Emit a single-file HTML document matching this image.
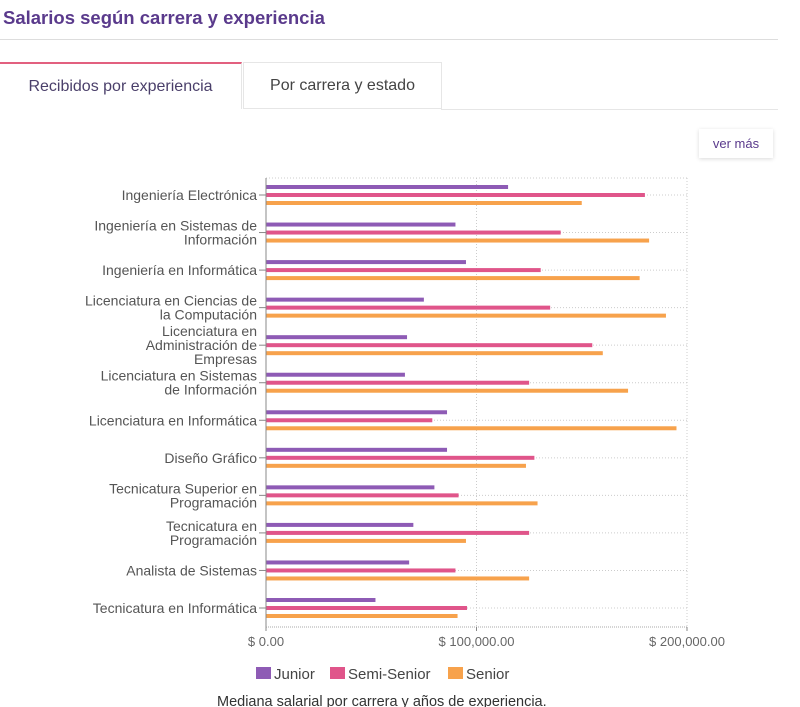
<!DOCTYPE html>
<html><head><meta charset="utf-8"><style>
body{margin:0;width:800px;height:707px;overflow:hidden;background:#fff;font-family:"Liberation Sans",sans-serif;position:relative}
.title{position:absolute;left:3px;top:7px;font-size:18.5px;font-weight:bold;color:#5a3a8c}
.hr{position:absolute;left:0;top:39px;width:778px;height:1px;background:#ddd}
.tab{position:absolute;top:62px;height:47px;font-size:16px;color:#444;display:flex;align-items:center;justify-content:center;box-sizing:border-box}
.btn{position:absolute;left:699px;top:129px;width:74px;height:29px;font-size:13px;color:#5a3a8c;display:flex;align-items:center;justify-content:center;box-shadow:0 1px 4px rgba(0,0,0,.15);background:#fff}
</style></head><body>
<div class="title">Salarios según carrera y experiencia</div>
<div class="hr"></div>
<div class="tab" style="left:0;width:242px;border-top:2px solid #e2607f;border-right:1px solid #e6e6e6;color:#4a3f6a">Recibidos por experiencia</div>
<div class="tab" style="left:243px;width:199px;border:1px solid #e6e6e6">Por carrera y estado</div>
<div style="position:absolute;left:441px;top:109px;width:337px;height:1px;background:#e6e6e6"></div>
<div class="btn">ver más</div>
<svg id="chart" width="800" height="707" style="position:absolute;left:0;top:0"></svg>
<script>
const categories=[["Ingeniería Electrónica"],["Ingeniería en Sistemas de","Información"],["Ingeniería en Informática"],["Licenciatura en Ciencias de","la Computación"],["Licenciatura en","Administración de","Empresas"],["Licenciatura en Sistemas","de Información"],["Licenciatura en Informática"],["Diseño Gráfico"],["Tecnicatura Superior en","Programación"],["Tecnicatura en","Programación"],["Analista de Sistemas"],["Tecnicatura en Informática"]];
const junior=[115000,90000,95000,75000,67000,66000,86000,86000,80000,70000,68000,52000];
const semiSenior=[180000,140000,130500,135000,155000,125000,79000,127500,91500,125000,90000,95500];
const senior=[150000,182000,177500,190000,160000,172000,195000,123500,129000,95000,125000,91000];
const xTicks=[0,100000,200000];
const xTickLabels=["$ 0.00","$ 100,000.00","$ 200,000.00"];
const series=[{name:"Junior",vals:junior,color:"#8e5bb5",off:-8},{name:"Semi-Senior",vals:semiSenior,color:"#e0558a",off:0},{name:"Senior",vals:senior,color:"#f7a24c",off:8}];
const svg=document.getElementById('chart');const NS="http://www.w3.org/2000/svg";
const X0=266,X1=687,Y0=178,Y1=627;
const x=v=>X0+(v/200000)*(X1-X0);
const y=i=>195+i*(608-195)/(categories.length-1);
function mk(t,a,p){const e=document.createElementNS(NS,t);for(const k in a)e.setAttribute(k,a[k]);(p||svg).appendChild(e);return e;}
let g=mk('line',{x1:X0,x2:X1,y1:Y0,y2:Y0,stroke:'#ccc','stroke-dasharray':'1,2'});

xTicks.forEach((t,k)=>{if(t>0){const l=mk('line',{x1:x(t),x2:x(t),y1:Y0,y2:Y1,stroke:'#ccc','stroke-dasharray':'1,2'});}
const tx=mk('text',{x:x(t),y:646,'text-anchor':'middle','font-size':13,fill:'#666'});tx.textContent=xTickLabels[k];});
categories.forEach((c,i)=>{const l=mk('line',{x1:X0,x2:X1,y1:y(i),y2:y(i),stroke:'#ccc','stroke-dasharray':'1,2'});
const tk=mk('line',{x1:X0-7,x2:X0,y1:y(i),y2:y(i),stroke:'#888'});
const n=c.length;c.forEach((s,j)=>{const t=mk('text',{x:257,y:y(i)+5+(j-(n-1)/2)*14,'text-anchor':'end','font-size':14,fill:'#555'});t.textContent=s;});});
series.forEach(s=>s.vals.forEach((v,i)=>{const r=mk('rect',{x:X0,y:y(i)+s.off-2,width:x(v)-X0,height:4,fill:s.color});}));
let ax=mk('line',{x1:X0,x2:X0,y1:Y0,y2:Y1,stroke:'#888'});
let bx=mk('line',{x1:X0,x2:X1,y1:Y1,y2:Y1,stroke:'#aaa','stroke-dasharray':'1,1'});
xTicks.forEach(t=>{const l=mk('line',{x1:x(t),x2:x(t),y1:Y1,y2:Y1+4,stroke:'#888'});});
const lx=[256,330,448];
series.forEach((s,k)=>{const r=mk('rect',{x:lx[k],y:667,width:15,height:12,fill:s.color});
const t=mk('text',{x:lx[k]+18,y:679,'font-size':15,fill:'#444'});t.textContent=s.name;});
const cap=mk('text',{x:217,y:706,'font-size':14.5,fill:'#333'});cap.textContent="Mediana salarial por carrera y años de experiencia.";
</script>
</body></html>
